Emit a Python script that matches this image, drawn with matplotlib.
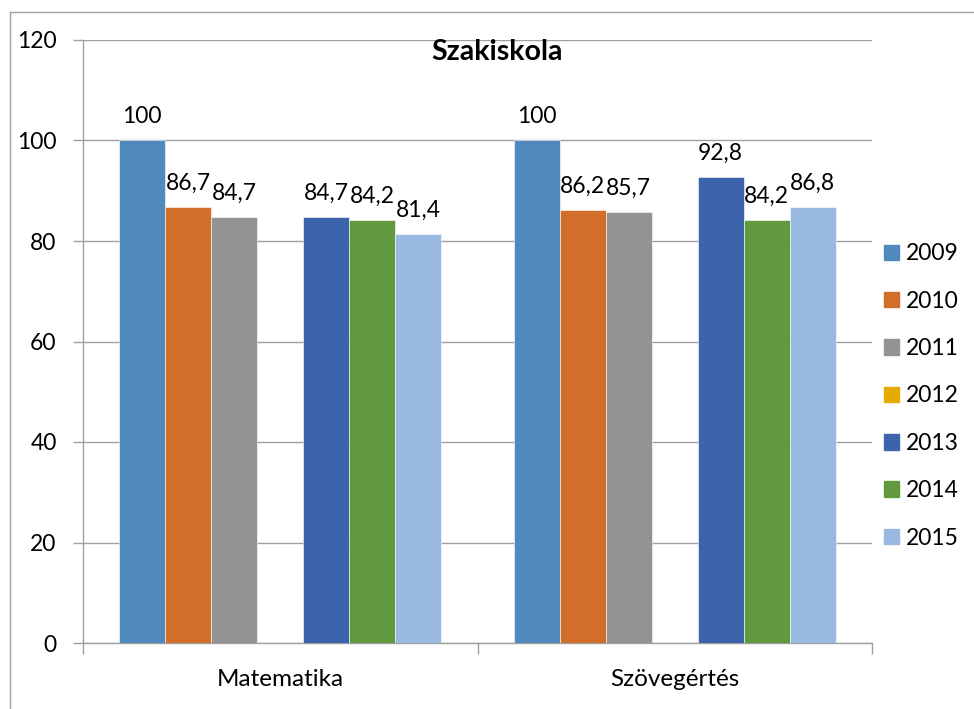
import matplotlib
matplotlib.use("Agg")
import matplotlib.pyplot as plt
import numpy as np
from matplotlib.patches import Rectangle
from matplotlib.lines import Line2D

plt.rcParams['font.family'] = ['Lato', 'DejaVu Sans']

categories = ["Matematika", "Szövegértés"]
years = ["2009", "2010", "2011", "2012", "2013", "2014", "2015"]
values = {
    "2009": [100, 100],
    "2010": [86.7, 86.2],
    "2011": [84.7, 85.7],
    "2012": [None, None],
    "2013": [84.7, 92.8],
    "2014": [84.2, 84.2],
    "2015": [81.4, 86.8],
}
colors = ["#4F89BE", "#D36E2A", "#939393", "#E5AB00", "#3C64AC", "#619A3E", "#99B9E0"]
title = "Szakiskola"
yticks = [0, 20, 40, 60, 80, 100, 120]

fig = plt.figure(figsize=(9.74, 7.09), dpi=100)
ax = fig.add_axes([83/974, 1-643/709, (872-83)/974, (643-40)/709])

n = len(years)
group = 0.816
w = group / n
x = np.arange(len(categories))
for i, (yr, c) in enumerate(zip(years, colors)):
    vals = values[yr]
    pos = x - group/2 + w*(i+0.5)
    for p, v in zip(pos, vals):
        if v is None:
            continue
        ax.bar(p, v, width=w, color=c, edgecolor='white', linewidth=0.4, zorder=3)
        lab = ("%g" % v).replace('.', ',')
        ax.annotate(lab, (p, v), xytext=(0, 9.5), textcoords='offset points',
                    ha='center', va='bottom', fontsize=16.5, color='black', zorder=4)

ax.set_xlim(-0.5, 1.5)
ax.set_ylim(0, 120)
ax.set_yticks(yticks)
ax.set_yticklabels([str(t) for t in yticks], fontsize=16.5)
ax.set_xticks([-0.5, 0.5, 1.5])
ax.set_xticklabels([])
ax.set_xticks(x, minor=True)
ax.set_xticklabels(categories, minor=True, fontsize=17.5)
ax.tick_params(axis='x', which='minor', length=0, pad=19)
ax.tick_params(axis='x', which='major', length=8, color='#A0A0A0', width=1)
ax.tick_params(axis='y', length=7, color='#A0A0A0', width=1, pad=12)
ax.grid(axis='y', color='#A0A0A0', linewidth=1, zorder=0)
for s in ['top', 'right']:
    ax.spines[s].set_visible(False)
for s in ['left', 'bottom']:
    ax.spines[s].set_color('#A0A0A0')
    ax.spines[s].set_linewidth(1)

fig.text(497/974, 1-52/709, title, ha='center', va='center', fontsize=20.5, fontweight='bold')

handles = [Rectangle((0, 0), 1, 1, color=c) for c in colors]
leg = fig.legend(handles, years, loc='center left', bbox_to_anchor=(884/974, 1-396/709),
                 frameon=False, fontsize=16.5, handlelength=0.66, handleheight=0.66,
                 handletextpad=0.3, labelspacing=1.15, borderaxespad=0, borderpad=0)

# outer chart frame (left and top visible)
fig.add_artist(Line2D([10/974, 10/974], [0, 1-12/709], color='#A0A0A0', lw=1, transform=fig.transFigure))
fig.add_artist(Line2D([10/974, 1], [1-12/709, 1-12/709], color='#A0A0A0', lw=1, transform=fig.transFigure))

fig.savefig("out.png", dpi=100)
